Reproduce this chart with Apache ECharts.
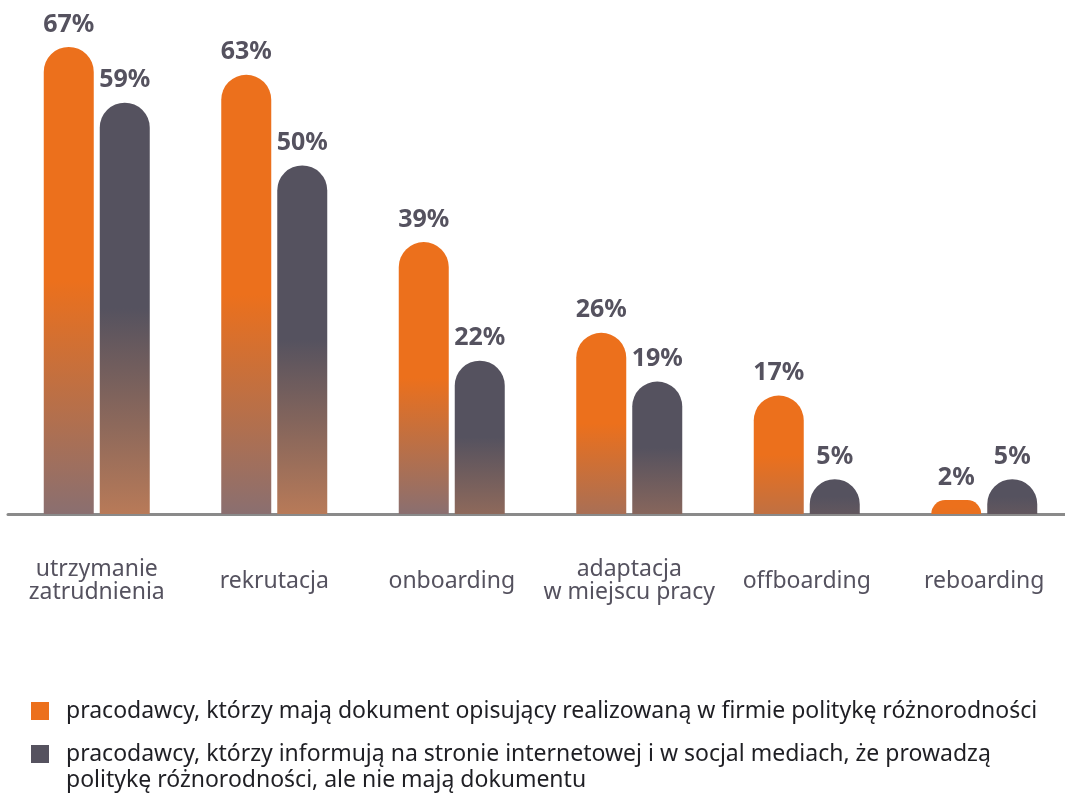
<!DOCTYPE html>
<html>
<head>
<meta charset="utf-8">
<script src="https://cdn.jsdelivr.net/npm/echarts@6/dist/echarts.min.js"></script>
<style>
  html, body { margin: 0; padding: 0; background: #ffffff; }
  #chart { width: 1065px; height: 798px; }
</style>
</head>
<body>
<div id="chart"></div>
<script>
const categories = ['utrzymanie\nzatrudnienia', 'rekrutacja', 'onboarding', 'adaptacja\nw miejscu pracy', 'offboarding', 'reboarding'];
const seriesNames = [
  'pracodawcy, którzy mają dokument opisujący realizowaną w firmie politykę różnorodności',
  'pracodawcy, którzy informują na stronie internetowej i w socjal mediach, że prowadzą\npolitykę różnorodności, ale nie mają dokumentu'
];
const withDocument = [67, 63, 39, 26, 17, 2];
const withoutDocument = [59, 50, 22, 19, 5, 5];

const ORANGE = '#ec701c';
const GRAY = '#55525f';
const ORANGE_END = [0x8a, 0x6f, 0x70];
const GRAY_END = [0xb8, 0x7a, 0x58];

function hexToRgb(h) {
  return [parseInt(h.slice(1, 3), 16), parseInt(h.slice(3, 5), 16), parseInt(h.slice(5, 7), 16)];
}
function mix(a, b, t) {
  const r = a.map((v, i) => Math.round(v + (b[i] - v) * t));
  return 'rgb(' + r.join(',') + ')';
}
function styled(values, base, end) {
  const b = hexToRgb(base);
  return values.map(v => {
    const s = Math.min(1, v / 38);
    return {
      value: v,
      itemStyle: {
        color: new echarts.graphic.LinearGradient(0, 0, 0, 1, [
          { offset: 0, color: base },
          { offset: 0.5, color: base },
          { offset: 1, color: mix(b, end, s) }
        ])
      }
    };
  });
}

const chart = echarts.init(document.getElementById('chart'), null, { renderer: 'canvas' });
const FONT = '"Noto Sans", "Open Sans", sans-serif';
const labelCfg = {
  show: true,
  position: 'top',
  distance: 10,
  formatter: '{c}%',
  fontSize: 25,
  fontWeight: 'bold',
  color: GRAY,
  fontFamily: FONT
};

chart.setOption({
  animation: false,
  backgroundColor: '#ffffff',
  grid: { left: 8, width: 1065, top: 26, bottom: 284, containLabel: false, outerBoundsMode: 'none' },
  legend: {
    orient: 'vertical',
    left: 31,
    top: 689,
    height: 200,
    padding: 0,
    itemGap: 8,
    itemWidth: 30,
    itemHeight: 44,
    selectedMode: false,
    textStyle: { fontSize: 23, color: '#1f1f24', fontFamily: FONT, lineHeight: 26 },
    data: [
      { name: seriesNames[0], icon: 'path://M0,0h0.01v0.01h-0.01Z M0,13H18V31H0Z M30,44h-0.01v-0.01h0.01Z', itemStyle: { color: ORANGE } },
      { name: seriesNames[1], icon: 'path://M0,0H18V18H0Z M30,44h-0.01v-0.01h0.01Z', itemStyle: { color: GRAY } }
    ]
  },
  xAxis: {
    type: 'category',
    data: categories,
    axisLine: { show: true, lineStyle: { color: '#8a8a8a', width: 3 } },
    axisTick: { show: false },
    axisLabel: { color: GRAY, fontSize: 23, lineHeight: 23, margin: 67, verticalAlign: 'middle', fontFamily: FONT, interval: 0 }
  },
  yAxis: {
    type: 'value',
    min: 0,
    max: 70,
    show: false,
    splitLine: { show: false }
  },
  series: [
    {
      name: seriesNames[0],
      type: 'bar',
      barWidth: 50,
      barGap: '12%',
      data: styled(withDocument, ORANGE, ORANGE_END),
      itemStyle: { borderRadius: [25, 25, 0, 0] },
      label: labelCfg
    },
    {
      name: seriesNames[1],
      type: 'bar',
      barWidth: 50,
      barGap: '12%',
      data: styled(withoutDocument, GRAY, GRAY_END),
      itemStyle: { borderRadius: [25, 25, 0, 0] },
      label: labelCfg
    }
  ]
});
</script>
</body>
</html>
